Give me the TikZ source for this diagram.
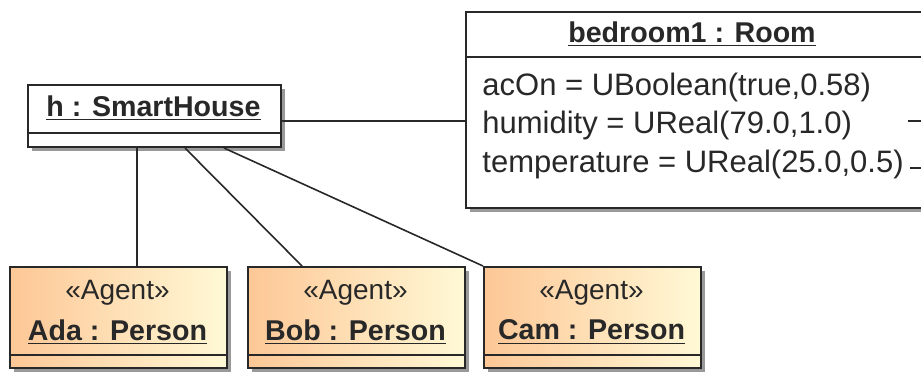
\documentclass[tikz,border=0pt]{standalone}
\usepackage{fontspec}
\setmainfont{Liberation Sans}
\usetikzlibrary{calc,shadows}

\definecolor{agentL}{RGB}{253,199,150}
\definecolor{agentR}{RGB}{255,249,214}
\definecolor{edge}{RGB}{40,40,40}

\tikzset{
  objbox/.style={draw=edge,line width=1pt,fill=white,anchor=north west,inner sep=0pt,
    drop shadow={shadow xshift=2pt,shadow yshift=-2pt,fill=black!40,opacity=1}},
  agentbox/.style={objbox,left color=agentL,right color=agentR,
    minimum width=108.5pt,minimum height=50.5pt},
  objname/.style={font=\fontsize{14.3}{16}\selectfont\bfseries,text=edge,inner sep=0pt},
  stereo/.style={font=\fontsize{14}{16}\selectfont,text=edge,inner sep=0pt},
  attr/.style={font=\fontsize{15.5}{18}\selectfont,text=edge,anchor=base west,inner sep=0pt},
  sep/.style={draw=edge,line width=1pt},
  link/.style={draw=edge,line width=0.8pt}
}

\begin{document}
\begin{tikzpicture}[x=0.5pt,y=-0.5pt]
  \clip (0,0) rectangle (921,371);

  \node[objbox,minimum width=126.5pt,minimum height=31pt] (house) at (27,84) {};
  \node[objname] (houseName) at (153.5,108) {\underline{h : SmartHouse}};
  \draw[sep] ($(house.south west)+(0,-15)$) -- ($(house.south east)+(0,-15)$);

  \node[objbox,minimum width=230pt,minimum height=98pt] (room) at (465,11) {};
  \node[objname] (roomName) at (692,34) {\underline{bedroom1 : Room}};
  \draw[sep] ($(room.north west)+(0,46)$) -- ($(room.north east)+(0,46)$);
  \node[attr] (acOn) at (482,95) {acOn = UBoolean(true,0.58)};
  \node[attr] (humidity) at (482,133.5) {humidity = UReal(79.0,1.0)};
  \node[attr] (temperature) at (482,172) {temperature = UReal(25.0,0.5)};

  \node[agentbox] (ada) at (9,266) {};
  \node[stereo] (adaStereo) at (117.5,293) {«Agent»};
  \node[objname] (adaName) at (117.5,332) {\underline{Ada : Person}};
  \draw[sep] ($(ada.south west)+(0,-14)$) -- ($(ada.south east)+(0,-14)$);

  \node[agentbox] (bob) at (247,266) {};
  \node[stereo] (bobStereo) at (355.5,293) {«Agent»};
  \node[objname] (bobName) at (355.5,332) {\underline{Bob : Person}};
  \draw[sep] ($(bob.south west)+(0,-14)$) -- ($(bob.south east)+(0,-14)$);

  \node[agentbox] (cam) at (483,266) {};
  \node[stereo] (camStereo) at (591.5,293) {«Agent»};
  \node[objname] (camName) at (591.5,332) {\underline{Cam : Person}};
  \draw[sep] ($(cam.south west)+(0,-14)$) -- ($(cam.south east)+(0,-14)$);

  % links
  \coordinate (roomLink) at (465,121);
  \draw[link] (house.east |- roomLink) -- (room.west |- roomLink);
  \draw[link] ($(house.south west)+(110,0)$) -- ($(ada.north west)+(128,0)$);
  \draw[link] ($(house.south west)+(158,0)$) -- ($(bob.north west)+(55,0)$);
  \draw[link] ($(house.south west)+(197,0)$) -- (cam.north west);

  \coordinate (humOut) at (908,121);
  \coordinate (tempOut) at (910,168);
  \draw[link] (humOut) -- (room.east |- humOut);
  \draw[link] (tempOut) -- (room.east |- tempOut);
\end{tikzpicture}
\end{document}
